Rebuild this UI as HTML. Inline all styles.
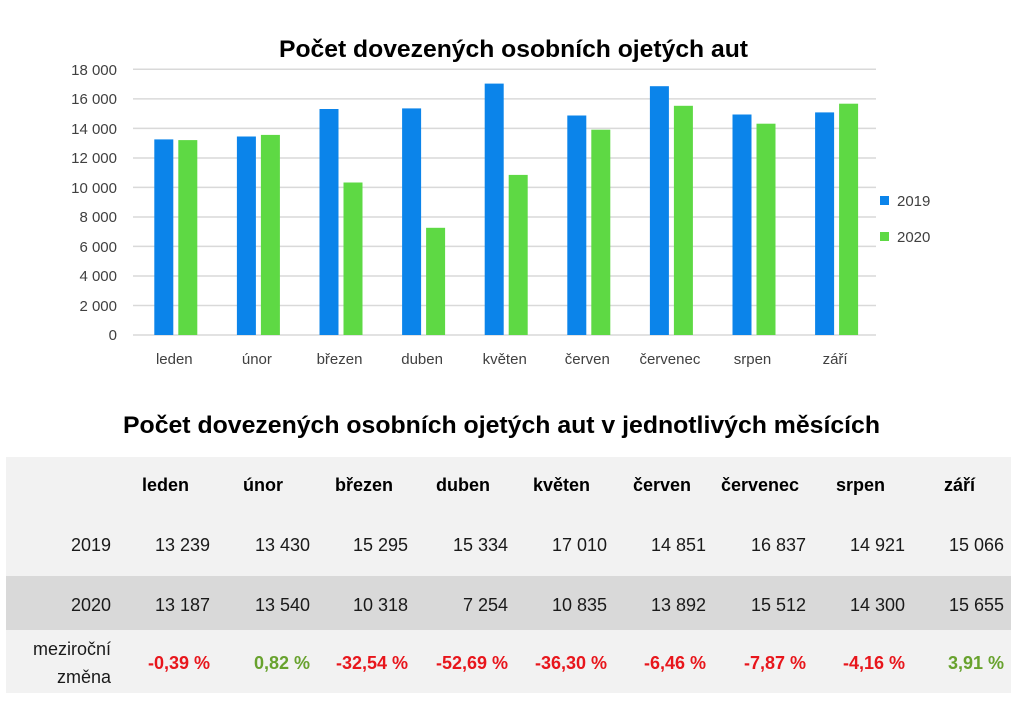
<!DOCTYPE html>
<html><head><meta charset="utf-8"><style>
body{margin:0;background:#fff;}
svg{display:block;font-family:"Liberation Sans",sans-serif;}
</style></head><body>
<svg width="1024" height="705" viewBox="0 0 1024 705">
<text x="279" y="57" textLength="469" lengthAdjust="spacingAndGlyphs" font-size="24" font-weight="bold" fill="#000">Počet dovezených osobních ojetých aut</text>
<g stroke="#d9d9d9" stroke-width="1.5">
<line x1="133" x2="876" y1="69.3" y2="69.3"/><line x1="133" x2="876" y1="98.9" y2="98.9"/><line x1="133" x2="876" y1="128.4" y2="128.4"/><line x1="133" x2="876" y1="158" y2="158"/><line x1="133" x2="876" y1="187.4" y2="187.4"/><line x1="133" x2="876" y1="217" y2="217"/><line x1="133" x2="876" y1="246.4" y2="246.4"/><line x1="133" x2="876" y1="276" y2="276"/><line x1="133" x2="876" y1="305.5" y2="305.5"/><line x1="133" x2="876" y1="335" y2="335"/>
</g>
<g font-size="15" fill="#404040" text-anchor="end">
<text x="117" y="75">18 000</text><text x="117" y="104">16 000</text><text x="117" y="134">14 000</text><text x="117" y="163">12 000</text><text x="117" y="193">10 000</text><text x="117" y="222">8 000</text><text x="117" y="252">6 000</text><text x="117" y="281">4 000</text><text x="117" y="311">2 000</text><text x="117" y="340">0</text>
</g>
<g fill="#0b84ea">
<rect x="154.3" width="19" y="139.4" height="195.6"/><rect x="236.9" width="19" y="136.5" height="198.5"/><rect x="319.5" width="19" y="109" height="226"/><rect x="402.1" width="19" y="108.4" height="226.6"/><rect x="484.7" width="19" y="83.6" height="251.4"/><rect x="567.3" width="19" y="115.5" height="219.5"/><rect x="649.9" width="19" y="86.2" height="248.8"/><rect x="732.5" width="19" y="114.5" height="220.5"/><rect x="815.1" width="19" y="112.4" height="222.6"/>
</g>
<g fill="#5ed944">
<rect x="178.3" width="19" y="140.1" height="194.9"/><rect x="260.9" width="19" y="134.9" height="200.1"/><rect x="343.5" width="19" y="182.5" height="152.5"/><rect x="426.1" width="19" y="227.8" height="107.2"/><rect x="508.7" width="19" y="174.9" height="160.1"/><rect x="591.3" width="19" y="129.7" height="205.3"/><rect x="673.9" width="19" y="105.8" height="229.2"/><rect x="756.5" width="19" y="123.7" height="211.3"/><rect x="839.1" width="19" y="103.7" height="231.3"/>
</g>
<g font-size="15" fill="#404040" text-anchor="middle">
<text x="174.3" y="364">leden</text><text x="256.9" y="364">únor</text><text x="339.5" y="364">březen</text><text x="422.1" y="364">duben</text><text x="504.7" y="364">květen</text><text x="587.3" y="364">červen</text><text x="669.9" y="364">červenec</text><text x="752.5" y="364">srpen</text><text x="835.1" y="364">září</text>
</g>
<rect x="880" y="196" width="9" height="9" fill="#0b84ea"/><text x="897" y="206" font-size="15" fill="#404040">2019</text>
<rect x="880" y="232" width="9" height="9" fill="#5ed944"/><text x="897" y="242" font-size="15" fill="#404040">2020</text>

<text x="123" y="433" textLength="757" lengthAdjust="spacingAndGlyphs" font-size="24" font-weight="bold" fill="#000">Počet dovezených osobních ojetých aut v jednotlivých měsících</text>
<rect x="6" y="457" width="1005" height="236" fill="#f2f2f2"/>
<rect x="6" y="576" width="1005" height="54" fill="#d9d9d9"/>
<g font-size="18" font-weight="bold" fill="#000">
<text x="142" y="491">leden</text><text x="243" y="491">únor</text><text x="335" y="491">březen</text><text x="436" y="491">duben</text><text x="533" y="491">květen</text><text x="633" y="491">červen</text><text x="721" y="491">červenec</text><text x="836" y="491">srpen</text><text x="944" y="491">září</text>
</g>
<g font-size="18" fill="#1a1a1a" text-anchor="end">
<text x="111" y="551">2019</text><text x="210" y="551">13 239</text><text x="310" y="551">13 430</text><text x="408" y="551">15 295</text><text x="508" y="551">15 334</text><text x="607" y="551">17 010</text><text x="706" y="551">14 851</text><text x="806" y="551">16 837</text><text x="905" y="551">14 921</text><text x="1004" y="551">15 066</text>
<text x="111" y="611">2020</text><text x="210" y="611">13 187</text><text x="310" y="611">13 540</text><text x="408" y="611">10 318</text><text x="508" y="611">7 254</text><text x="607" y="611">10 835</text><text x="706" y="611">13 892</text><text x="806" y="611">15 512</text><text x="905" y="611">14 300</text><text x="1004" y="611">15 655</text>
<text x="111" y="655">meziroční</text><text x="111" y="683">změna</text>
</g>
<g font-size="18" font-weight="bold" text-anchor="end" fill="#e8161c">
<text x="210" y="669">-0,39 %</text><text x="310" y="669" fill="#68a22e">0,82 %</text><text x="408" y="669">-32,54 %</text><text x="508" y="669">-52,69 %</text><text x="607" y="669">-36,30 %</text><text x="706" y="669">-6,46 %</text><text x="806" y="669">-7,87 %</text><text x="905" y="669">-4,16 %</text><text x="1004" y="669" fill="#68a22e">3,91 %</text>
</g>
</svg>
</body></html>
